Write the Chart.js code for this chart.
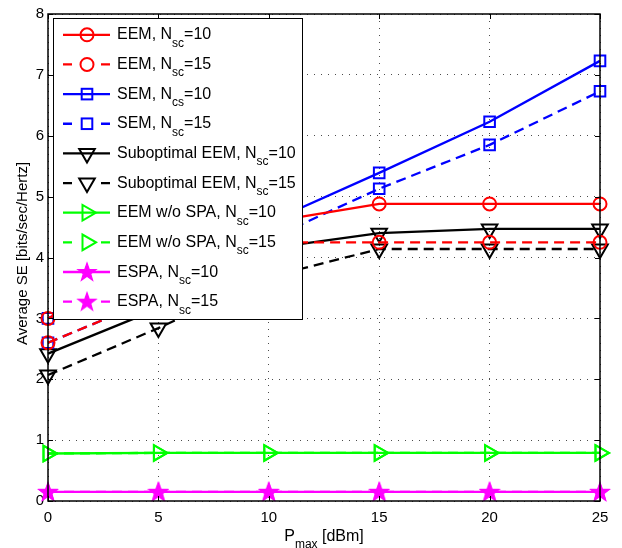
<!DOCTYPE html>
<html>
<head>
<meta charset="utf-8">
<script src="https://cdn.jsdelivr.net/npm/chart.js@4.4.1/dist/chart.umd.min.js"></script>
<style>
  html, body { margin: 0; padding: 0; background: #fff; }
  #wrap { width: 622px; height: 548px; }
</style>
</head>
<body>
<div id="wrap"><canvas id="c" width="622" height="548"></canvas></div>
<script>
// Maximum transmit power (dBm)
const pmax = [0, 5, 10, 15, 20, 25];

// Average spectral efficiency per scheme [bits/sec/Hertz]
const eem10    = [3.00, 3.85, 4.58, 4.88, 4.88, 4.88];
const eem15    = [2.60, 3.35, 4.25, 4.25, 4.25, 4.25];
const sem10    = [3.00, 3.85, 4.58, 5.39, 6.23, 7.23];
const sem15    = [2.60, 3.35, 4.30, 5.13, 5.85, 6.73];
const subEem10 = [2.42, 3.16, 4.15, 4.40, 4.47, 4.47];
const subEem15 = [2.07, 2.84, 3.68, 4.14, 4.14, 4.14];
const noSpa10  = [0.78, 0.79, 0.79, 0.79, 0.79, 0.79];
const noSpa15  = [0.78, 0.79, 0.79, 0.79, 0.79, 0.79];
const espa10   = [0.15, 0.15, 0.15, 0.15, 0.15, 0.15];
const espa15   = [0.15, 0.15, 0.15, 0.15, 0.15, 0.15];

// Legend entries: [text, subscript, tail]
const legendLabels = [
  ['EEM, N', 'sc', '=10'],
  ['EEM, N', 'sc', '=15'],
  ['SEM, N', 'cs', '=10'],
  ['SEM, N', 'sc', '=15'],
  ['Suboptimal EEM, N', 'sc', '=10'],
  ['Suboptimal EEM, N', 'sc', '=15'],
  ['EEM w/o SPA, N', 'sc', '=10'],
  ['EEM w/o SPA, N', 'sc', '=15'],
  ['ESPA, N', 'sc', '=10'],
  ['ESPA, N', 'sc', '=15']
];

const xTicks = [0, 5, 10, 15, 20, 25];
const yTicks = [0, 1, 2, 3, 4, 5, 6, 7, 8];

const FONT = '"Liberation Sans", Arial, Helvetica, sans-serif';
const DASH = [10, 6];

// Five-pointed star marker as an image
function makeStar(color) {
  const cv = document.createElement('canvas');
  cv.width = 22; cv.height = 22;
  const g = cv.getContext('2d');
  const cx = 11, cy = 11.5, ro = 9.5, ri = 3.8;
  g.beginPath();
  for (let i = 0; i < 10; i++) {
    const r = i % 2 === 0 ? ro : ri;
    const a = -Math.PI / 2 + i * Math.PI / 5;
    const px = cx + r * Math.cos(a), py = cy + r * Math.sin(a);
    if (i === 0) g.moveTo(px, py); else g.lineTo(px, py);
  }
  g.closePath();
  g.fillStyle = color;
  g.strokeStyle = color;
  g.lineWidth = 1.2;
  g.fill();
  g.stroke();
  return cv;
}
const starImg = makeStar('#ff00ff');

const markers = {
  circle:  { pointStyle: 'circle', radius: 6.5, rotation: 0 },
  square:  { pointStyle: 'rect', radius: 7.5, rotation: 0 },
  tdown:   { pointStyle: 'triangle', radius: 9, rotation: 180 },
  tright:  { pointStyle: 'triangle', radius: 9, rotation: 90 },
  star:    { pointStyle: starImg, radius: 9, rotation: 0 }
};

function series(values, color, dashed, marker, idx) {
  const m = markers[marker];
  return {
    label: legendLabels[idx].join(''),
    data: pmax.map((p, i) => ({ x: p, y: values[i] })),
    borderColor: color,
    backgroundColor: 'rgba(0,0,0,0)',
    borderWidth: 2.3,
    borderDash: dashed ? DASH : [],
    pointStyle: m.pointStyle,
    pointRadius: m.radius,
    pointRotation: m.rotation,
    pointBorderColor: color,
    pointBackgroundColor: 'rgba(0,0,0,0)',
    pointBorderWidth: 2,
    tension: 0,
    clip: false,
    _marker: marker,
    _dashed: dashed
  };
}

const datasets = [
  series(eem10,    '#ff0000', false, 'circle', 0),
  series(eem15,    '#ff0000', true,  'circle', 1),
  series(sem10,    '#0000ff', false, 'square', 2),
  series(sem15,    '#0000ff', true,  'square', 3),
  series(subEem10, '#000000', false, 'tdown',  4),
  series(subEem15, '#000000', true,  'tdown',  5),
  series(noSpa10,  '#00ff00', false, 'tright', 6),
  series(noSpa15,  '#00ff00', true,  'tright', 7),
  series(espa10,   '#ff00ff', false, 'star',   8),
  series(espa15,   '#ff00ff', true,  'star',   9)
];

// Marker drawing for the legend box
function drawMarker(ctx, ds, x, y) {
  const m = markers[ds._marker];
  ctx.save();
  ctx.strokeStyle = ds.borderColor;
  ctx.lineWidth = 2;
  if (m.pointStyle === starImg) {
    ctx.drawImage(starImg, x - starImg.width / 2, y - starImg.height / 2);
  } else if (m.pointStyle === 'circle') {
    ctx.beginPath();
    ctx.arc(x, y, m.radius, 0, Math.PI * 2);
    ctx.stroke();
  } else if (m.pointStyle === 'rect') {
    const s = Math.SQRT1_2 * m.radius;
    ctx.strokeRect(x - s, y - s, 2 * s, 2 * s);
  } else {
    let rad = m.rotation * Math.PI / 180;
    const r = m.radius;
    ctx.beginPath();
    ctx.moveTo(x + Math.sin(rad) * r, y - Math.cos(rad) * r);
    rad += 2 * Math.PI / 3;
    ctx.lineTo(x + Math.sin(rad) * r, y - Math.cos(rad) * r);
    rad += 2 * Math.PI / 3;
    ctx.lineTo(x + Math.sin(rad) * r, y - Math.cos(rad) * r);
    ctx.closePath();
    ctx.stroke();
  }
  ctx.restore();
}

// Text with a lowered subscript part
function drawSubText(ctx, parts, x, y, size, subSize, subDrop) {
  ctx.font = size + 'px ' + FONT;
  ctx.fillText(parts[0], x, y);
  let cx = x + ctx.measureText(parts[0]).width;
  ctx.font = subSize + 'px ' + FONT;
  ctx.fillText(parts[1], cx, y + subDrop);
  cx += ctx.measureText(parts[1]).width;
  ctx.font = size + 'px ' + FONT;
  ctx.fillText(parts[2], cx, y);
  return cx + ctx.measureText(parts[2]).width;
}
function subTextWidth(ctx, parts, size, subSize) {
  ctx.font = size + 'px ' + FONT;
  let w = ctx.measureText(parts[0]).width + ctx.measureText(parts[2]).width;
  ctx.font = subSize + 'px ' + FONT;
  return w + ctx.measureText(parts[1]).width;
}

// Axes frame with inward tick marks, axis titles and legend box
const decorations = {
  id: 'decorations',
  afterDatasetsDraw(chart) {
    const ctx = chart.ctx;
    const a = chart.chartArea;
    const xs = chart.scales.x, ys = chart.scales.y;
    ctx.save();

    // frame
    ctx.strokeStyle = '#000';
    ctx.lineWidth = 1.5;
    ctx.strokeRect(a.left, a.top, a.right - a.left, a.bottom - a.top);

    // inward ticks on all four sides
    ctx.lineWidth = 1;
    const tl = 5;
    ctx.beginPath();
    xTicks.forEach(v => {
      const px = Math.round(xs.getPixelForValue(v)) + 0.5;
      ctx.moveTo(px, a.bottom); ctx.lineTo(px, a.bottom - tl);
      ctx.moveTo(px, a.top); ctx.lineTo(px, a.top + tl);
    });
    yTicks.forEach(v => {
      const py = Math.round(ys.getPixelForValue(v)) + 0.5;
      ctx.moveTo(a.left, py); ctx.lineTo(a.left + tl, py);
      ctx.moveTo(a.right, py); ctx.lineTo(a.right - tl, py);
    });
    ctx.stroke();

    // x-axis title: P_max [dBm]
    ctx.fillStyle = '#000';
    ctx.textBaseline = 'alphabetic';
    ctx.textAlign = 'left';
    const xt = ['P', 'max', ' [dBm]'];
    const w = subTextWidth(ctx, xt, 16, 12);
    drawSubText(ctx, xt, (a.left + a.right) / 2 - w / 2, 541, 16, 12, 6.5);

    // y-axis title
    ctx.save();
    ctx.translate(27, (a.top + a.bottom) / 2 - 4);
    ctx.rotate(-Math.PI / 2);
    ctx.font = '15px ' + FONT;
    ctx.textAlign = 'center';
    ctx.fillText('Average SE [bits/sec/Hertz]', 0, 0);
    ctx.restore();

    // legend box
    const bx = 53.5, by = 18.5, bw = 249, bh = 301;
    ctx.fillStyle = '#fff';
    ctx.fillRect(bx, by, bw, bh);
    ctx.strokeStyle = '#000';
    ctx.lineWidth = 1;
    ctx.strokeRect(bx, by, bw, bh);

    const x0 = 63, x1 = 110, mx = 87;
    chart.data.datasets.forEach((ds, i) => {
      const y = 34.8 + i * 29.65;
      ctx.strokeStyle = ds.borderColor;
      ctx.lineWidth = 2.3;
      ctx.setLineDash([]);
      ctx.beginPath();
      if (ds._dashed) {
        ctx.moveTo(x0, y); ctx.lineTo(x0 + 9, y);
        ctx.moveTo(x1 - 9, y); ctx.lineTo(x1, y);
      } else {
        ctx.moveTo(x0, y); ctx.lineTo(x1, y);
      }
      ctx.stroke();
      drawMarker(ctx, ds, mx, y);
      ctx.fillStyle = '#000';
      ctx.textAlign = 'left';
      ctx.textBaseline = 'alphabetic';
      drawSubText(ctx, legendLabels[i], 117, y + 4.5, 16, 12, 7.5);
    });
    ctx.restore();
  }
};

new Chart(document.getElementById('c'), {
  type: 'line',
  data: { datasets },
  options: {
    responsive: false,
    animation: false,
    events: [],
    layout: { padding: { top: 14, right: 22, left: 0, bottom: 0 } },
    plugins: { legend: { display: false }, tooltip: { enabled: false } },
    scales: {
      x: {
        type: 'linear',
        min: 0, max: 25,
        afterFit(scale) { scale.height = 47; },
        afterBuildTicks(scale) { scale.ticks = xTicks.map(v => ({ value: v })); },
        ticks: {
          color: '#000',
          font: { family: FONT, size: 15 },
          padding: 8,
          maxRotation: 0,
          callback: v => String(v)
        },
        grid: { color: 'rgba(0,0,0,0.7)', lineWidth: 1, drawTicks: false },
        border: { display: false, dash: [1, 6] }
      },
      y: {
        type: 'linear',
        min: 0, max: 8,
        afterFit(scale) { scale.width = 48; },
        afterBuildTicks(scale) { scale.ticks = yTicks.map(v => ({ value: v })); },
        ticks: {
          color: '#000',
          font: { family: FONT, size: 15 },
          padding: 4,
          callback: v => String(v)
        },
        grid: { color: 'rgba(0,0,0,0.7)', lineWidth: 1, drawTicks: false },
        border: { display: false, dash: [1, 6] }
      }
    }
  },
  plugins: [decorations]
});
</script>
</body>
</html>
